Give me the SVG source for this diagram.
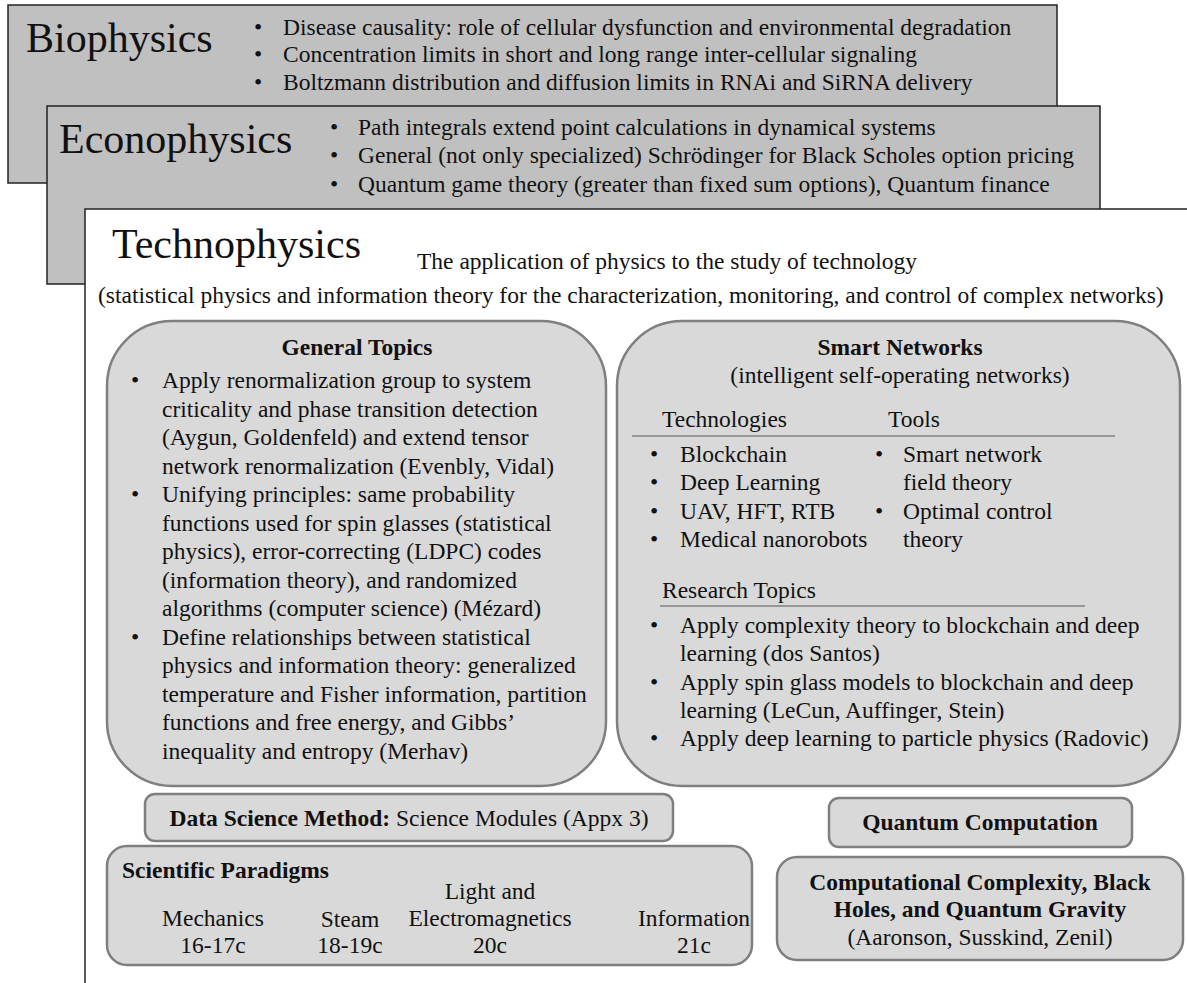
<svg xmlns="http://www.w3.org/2000/svg" width="1187" height="983" viewBox="0 0 1187 983">
<style>
text{font-family:"Liberation Serif","Times New Roman",serif;fill:#111}
.card{fill:#c0c0c0;stroke:#222;stroke-width:1.5}
.white{fill:#fff;stroke:#222;stroke-width:1.5}
.box{fill:#d9d9d9;stroke:#7f7f7f;stroke-width:2.5}
.rule{stroke:#7f7f7f;stroke-width:1.5}
.t42{font-size:42px}
.t{font-size:23.5px}
.b{font-weight:bold}
.c{text-anchor:middle}
</style>
<g id="biophysics">
<rect class="card" x="8" y="5" width="1049" height="178"/>
<text class="t42" x="26" y="52">Biophysics</text>
<g class="t">
<text x="254" y="35">•</text><text x="283" y="35">Disease causality: role of cellular dysfunction and environmental degradation</text>
<text x="254" y="62">•</text><text x="283" y="62">Concentration limits in short and long range inter-cellular signaling</text>
<text x="254" y="90">•</text><text x="283" y="90">Boltzmann distribution and diffusion limits in RNAi and SiRNA delivery</text>
</g>
</g>
<g id="econophysics">
<rect class="card" x="47" y="106" width="1053" height="178"/>
<text class="t42" x="59" y="153">Econophysics</text>
<g class="t">
<text x="330" y="135">•</text><text x="358" y="135">Path integrals extend point calculations in dynamical systems</text>
<text x="330" y="163">•</text><text x="358" y="163">General (not only specialized) Schrödinger for Black Scholes option pricing</text>
<text x="330" y="192">•</text><text x="358" y="192">Quantum game theory (greater than fixed sum options), Quantum finance</text>
</g>
</g>
<g id="technophysics">
<rect class="white" x="85" y="209" width="1120" height="800"/>
<text class="t42" x="112" y="258">Technophysics</text>
<text class="t" x="417" y="269">The application of physics to the study of technology</text>
<text class="t" x="98" y="303">(statistical physics and information theory for the characterization, monitoring, and control of complex networks)</text>
</g>
<g id="general-topics">
<rect class="box" x="107" y="321" width="499" height="465" rx="65" ry="65"/>
<text class="t b c" x="357" y="355">General Topics</text>
<g class="t">
<text x="131" y="388">•</text><text x="162" y="388">Apply renormalization group to system</text>
<text x="162" y="416.5">criticality and phase transition detection</text>
<text x="162" y="445">(Aygun, Goldenfeld) and extend tensor</text>
<text x="162" y="473.5">network renormalization (Evenbly, Vidal)</text>
<text x="131" y="502">•</text><text x="162" y="502">Unifying principles: same probability</text>
<text x="162" y="530.5">functions used for spin glasses (statistical</text>
<text x="162" y="559">physics), error-correcting (LDPC) codes</text>
<text x="162" y="587.5">(information theory), and randomized</text>
<text x="162" y="616">algorithms (computer science) (Mézard)</text>
<text x="131" y="644.5">•</text><text x="162" y="644.5">Define relationships between statistical</text>
<text x="162" y="673">physics and information theory: generalized</text>
<text x="162" y="701.5">temperature and Fisher information, partition</text>
<text x="162" y="730">functions and free energy, and Gibbs’</text>
<text x="162" y="758.5">inequality and entropy (Merhav)</text>
</g>
</g>
<g id="smart-networks">
<rect class="box" x="617" y="321" width="563" height="465" rx="65" ry="65"/>
<text class="t b c" x="900" y="355">Smart Networks</text>
<text class="t c" x="900" y="383">(intelligent self-operating networks)</text>
<text class="t" x="662" y="427">Technologies</text>
<text class="t" x="888" y="427">Tools</text>
<line class="rule" x1="632" y1="436" x2="1115" y2="436"/>
<g class="t">
<text x="650" y="462">•</text><text x="680" y="462">Blockchain</text>
<text x="650" y="490">•</text><text x="680" y="490">Deep Learning</text>
<text x="650" y="518.5">•</text><text x="680" y="518.5">UAV, HFT, RTB</text>
<text x="650" y="547">•</text><text x="680" y="547">Medical nanorobots</text>
<text x="875" y="462">•</text><text x="903" y="462">Smart network</text>
<text x="903" y="490">field theory</text>
<text x="875" y="518.5">•</text><text x="903" y="518.5">Optimal control</text>
<text x="903" y="547">theory</text>
</g>
<text class="t" x="662" y="598">Research Topics</text>
<line class="rule" x1="660" y1="606" x2="1085" y2="606"/>
<g class="t">
<text x="650" y="633">•</text><text x="680" y="633">Apply complexity theory to blockchain and deep</text>
<text x="680" y="661">learning (dos Santos)</text>
<text x="650" y="689.5">•</text><text x="680" y="689.5">Apply spin glass models to blockchain and deep</text>
<text x="680" y="718">learning (LeCun, Auffinger, Stein)</text>
<text x="650" y="746">•</text><text x="680" y="746">Apply deep learning to particle physics (Radovic)</text>
</g>
</g>
<g id="data-science-method">
<rect class="box" x="145" y="794" width="528" height="47" rx="10" ry="10"/>
<text class="t c" x="409" y="826"><tspan class="b">Data Science Method:</tspan> Science Modules (Appx 3)</text>
</g>
<g id="scientific-paradigms">
<rect class="box" x="107" y="846" width="645" height="119" rx="20" ry="20"/>
<text class="t b" x="122" y="878">Scientific Paradigms</text>
<g class="t c">
<text x="213" y="926">Mechanics</text><text x="213" y="953">16-17c</text>
<text x="350" y="927">Steam</text><text x="350" y="953">18-19c</text>
<text x="490" y="899">Light and</text><text x="490" y="926">Electromagnetics</text><text x="490" y="953">20c</text>
<text x="694" y="926">Information</text><text x="694" y="953">21c</text>
</g>
</g>
<g id="quantum-computation">
<rect class="box" x="829" y="798" width="303" height="49" rx="10" ry="10"/>
<text class="t b c" x="980" y="830">Quantum Computation</text>
</g>
<g id="computational-complexity">
<rect class="box" x="777" y="857" width="406" height="103" rx="20" ry="20"/>
<text class="t b c" x="980" y="890">Computational Complexity, Black</text>
<text class="t b c" x="980" y="917">Holes, and Quantum Gravity</text>
<text class="t c" x="980" y="945">(Aaronson, Susskind, Zenil)</text>
</g>
<g id="connectors"/>
</svg>
